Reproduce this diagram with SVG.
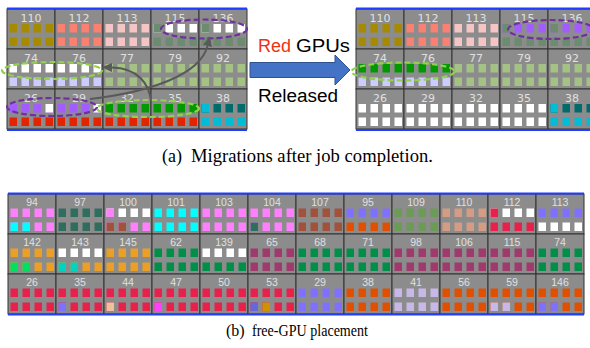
<svg xmlns="http://www.w3.org/2000/svg" xmlns:xlink="http://www.w3.org/1999/xlink" width="590" height="348" viewBox="0 0 590 348">
<style>
.bgc{fill:#8c8c8c;stroke:#333;stroke-width:1}
.lt{font-family:"DejaVu Sans",sans-serif;font-size:11px;fill:#e0e0e0;text-anchor:middle}
.lb{font-family:"Liberation Sans",sans-serif;font-size:10.5px;fill:#e0e0e0;text-anchor:middle}
.blue{stroke:#1f3cff;stroke-width:2}
.ep{fill:none;stroke:#7030a0;stroke-width:2.2;stroke-dasharray:6 3}
.eg{fill:none;stroke:#92d050;stroke-width:2.2;stroke-dasharray:6 3}
.arr{fill:none;stroke:#595959;stroke-width:2}
.sans{font-family:"Liberation Sans",Arial,sans-serif;font-size:18px;fill:#000}
.serif{font-family:"Liberation Serif","Times New Roman",serif;font-size:18px;fill:#000}
.ol{fill:#a68a00}.sa{fill:#fa8072}.pi{fill:#f5c5c5}.gg{fill:#6b8c6e}.wh{fill:#fff}.la{fill:#ccccff}.lg{fill:#a3c283}.pu{fill:#a35cff}.rd{fill:#e22400}.gn{fill:#009a00}.cy{fill:#00bcd4}.tl{fill:#006b6b}
.pk{fill:#ff80ff}.c2{fill:#00ffff}.dt{fill:#2f6e5e}.br{fill:#a0523d}.or{fill:#eb9f25}.bgr{fill:#00e060}.tq{fill:#00d4c0}.gr{fill:#008f48}.pl{fill:#a03a6c}.cr{fill:#e8204c}.pw{fill:#8070ff}.pe{fill:#f0c098}.mg{fill:#ff40ff}.bl{fill:#6666dd}.go{fill:#d09000}.ro{fill:#e05000}.og{fill:#6b9b55}.tn{fill:#d49c82}.lv{fill:#c8b8e8}
</style>
<defs>
<rect id="q" width="7.5" height="8.5"/>
<g id="r"><use href="#q" x="2.5"/><use href="#q" x="14.5"/><use href="#q" x="26.5"/><use href="#q" x="38.5"/></g>
<marker id="ah" markerUnits="userSpaceOnUse" markerWidth="11" markerHeight="10" refX="0" refY="4.5" orient="auto"><path d="M0,0 L10,4.5 L0,9 z" fill="#595959"/></marker>
</defs>
<rect width="590" height="348" fill="#fff"/>

<!-- Top-left grid -->
<g id="tl-110" transform="translate(7,9)"><rect class="bgc" width="48" height="40"/><text class="lt" x="24" y="12.5">110</text><use href="#r" y="15" class="ol"/><use href="#r" y="28.5" class="ol"/></g>
<g id="tl-112" transform="translate(55,9)"><rect class="bgc" width="48" height="40"/><text class="lt" x="24" y="12.5">112</text><use href="#r" y="15" class="sa"/><use href="#r" y="28.5" class="sa"/></g>
<g id="tl-113" transform="translate(103,9)"><rect class="bgc" width="48" height="40"/><text class="lt" x="24" y="12.5">113</text><use href="#r" y="15" class="pi"/><use href="#r" y="28.5" class="pi"/></g>
<g id="tl-115" transform="translate(151,9)"><rect class="bgc" width="48" height="40"/><text class="lt" x="24" y="12.5">115</text><use href="#r" y="15" class="wh"/><use href="#q" x="2.5" y="15" class="gg"/><use href="#r" y="28.5" class="gg"/></g>
<g id="tl-136" transform="translate(199,9)"><rect class="bgc" width="48" height="40"/><text class="lt" x="24" y="12.5">136</text><use href="#r" y="15" class="wh"/><use href="#q" x="2.5" y="15" class="gg"/><use href="#r" y="28.5" class="gg"/></g>
<g id="tl-74" transform="translate(7,49)"><rect class="bgc" width="48" height="40"/><text class="lt" x="24" y="12.5">74</text><use href="#r" y="15" class="wh"/><use href="#r" y="28.5" class="la"/></g>
<g id="tl-76" transform="translate(55,49)"><rect class="bgc" width="48" height="40"/><text class="lt" x="24" y="12.5">76</text><use href="#r" y="15" class="wh"/><use href="#r" y="28.5" class="la"/></g>
<g id="tl-77" transform="translate(103,49)"><rect class="bgc" width="48" height="40"/><text class="lt" x="24" y="12.5">77</text><use href="#r" y="15" class="lg"/><use href="#r" y="28.5" class="lg"/></g>
<g id="tl-79" transform="translate(151,49)"><rect class="bgc" width="48" height="40"/><text class="lt" x="24" y="12.5">79</text><use href="#r" y="15" class="lg"/><use href="#r" y="28.5" class="lg"/></g>
<g id="tl-92" transform="translate(199,49)"><rect class="bgc" width="48" height="40"/><text class="lt" x="24" y="12.5">92</text><use href="#r" y="15" class="lg"/><use href="#r" y="28.5" class="lg"/></g>
<g id="tl-26" transform="translate(7,89)"><rect class="bgc" width="48" height="40"/><text class="lt" x="24" y="12.5">26</text><use href="#r" y="15" class="pu"/><use href="#q" x="38.5" y="15" class="wh"/><use href="#r" y="28.5" class="rd"/></g>
<g id="tl-29" transform="translate(55,89)"><rect class="bgc" width="48" height="40"/><text class="lt" x="24" y="12.5">29</text><use href="#r" y="15" class="pu"/><use href="#q" x="38.5" y="15" class="wh"/><use href="#r" y="28.5" class="rd"/></g>
<g id="tl-32" transform="translate(103,89)"><rect class="bgc" width="48" height="40"/><text class="lt" x="24" y="12.5">32</text><use href="#r" y="15" class="gn"/><use href="#r" y="28.5" class="rd"/></g>
<g id="tl-35" transform="translate(151,89)"><rect class="bgc" width="48" height="40"/><text class="lt" x="24" y="12.5">35</text><use href="#r" y="15" class="gn"/><use href="#r" y="28.5" class="rd"/></g>
<g id="tl-38" transform="translate(199,89)"><rect class="bgc" width="48" height="40"/><text class="lt" x="24" y="12.5">38</text><use href="#r" y="15" class="tl"/><use href="#q" x="2.5" y="15" class="cy"/><use href="#r" y="28.5" class="cy"/></g>

<!-- Top-right grid -->
<g id="tr-110" transform="translate(356,9)"><rect class="bgc" width="48" height="40"/><text class="lt" x="24" y="12.5">110</text><use href="#r" y="15" class="ol"/><use href="#r" y="28.5" class="ol"/></g>
<g id="tr-112" transform="translate(404,9)"><rect class="bgc" width="48" height="40"/><text class="lt" x="24" y="12.5">112</text><use href="#r" y="15" class="sa"/><use href="#r" y="28.5" class="sa"/></g>
<g id="tr-113" transform="translate(452,9)"><rect class="bgc" width="48" height="40"/><text class="lt" x="24" y="12.5">113</text><use href="#r" y="15" class="pi"/><use href="#r" y="28.5" class="pi"/></g>
<g id="tr-115" transform="translate(500,9)"><rect class="bgc" width="48" height="40"/><text class="lt" x="24" y="12.5">115</text><use href="#r" y="15" class="pu"/><use href="#q" x="2.5" y="15" class="gg"/><use href="#r" y="28.5" class="gg"/></g>
<g id="tr-136" transform="translate(548,9)"><rect class="bgc" width="48" height="40"/><text class="lt" x="24" y="12.5">136</text><use href="#r" y="15" class="pu"/><use href="#q" x="2.5" y="15" class="gg"/><use href="#r" y="28.5" class="gg"/></g>
<g id="tr-74" transform="translate(356,49)"><rect class="bgc" width="48" height="40"/><text class="lt" x="24" y="12.5">74</text><use href="#r" y="15" class="gn"/><use href="#r" y="28.5" class="la"/></g>
<g id="tr-76" transform="translate(404,49)"><rect class="bgc" width="48" height="40"/><text class="lt" x="24" y="12.5">76</text><use href="#r" y="15" class="gn"/><use href="#r" y="28.5" class="la"/></g>
<g id="tr-77" transform="translate(452,49)"><rect class="bgc" width="48" height="40"/><text class="lt" x="24" y="12.5">77</text><use href="#r" y="15" class="lg"/><use href="#r" y="28.5" class="lg"/></g>
<g id="tr-79" transform="translate(500,49)"><rect class="bgc" width="48" height="40"/><text class="lt" x="24" y="12.5">79</text><use href="#r" y="15" class="lg"/><use href="#r" y="28.5" class="lg"/></g>
<g id="tr-92" transform="translate(548,49)"><rect class="bgc" width="48" height="40"/><text class="lt" x="24" y="12.5">92</text><use href="#r" y="15" class="lg"/><use href="#r" y="28.5" class="lg"/></g>
<g id="tr-26" transform="translate(356,89)"><rect class="bgc" width="48" height="40"/><text class="lt" x="24" y="12.5">26</text><use href="#r" y="15" class="wh"/><use href="#r" y="28.5" class="wh"/></g>
<g id="tr-29" transform="translate(404,89)"><rect class="bgc" width="48" height="40"/><text class="lt" x="24" y="12.5">29</text><use href="#r" y="15" class="wh"/><use href="#r" y="28.5" class="wh"/></g>
<g id="tr-32" transform="translate(452,89)"><rect class="bgc" width="48" height="40"/><text class="lt" x="24" y="12.5">32</text><use href="#r" y="15" class="wh"/><use href="#r" y="28.5" class="wh"/></g>
<g id="tr-35" transform="translate(500,89)"><rect class="bgc" width="48" height="40"/><text class="lt" x="24" y="12.5">35</text><use href="#r" y="15" class="wh"/><use href="#r" y="28.5" class="wh"/></g>
<g id="tr-38" transform="translate(548,89)"><rect class="bgc" width="48" height="40"/><text class="lt" x="24" y="12.5">38</text><use href="#r" y="15" class="tl"/><use href="#q" x="2.5" y="15" class="cy"/><use href="#r" y="28.5" class="cy"/></g>

<!-- Bottom grid row 0 -->
<g id="b-94" transform="translate(8,194)"><rect class="bgc" width="48" height="40"/><text class="lb" x="24" y="12">94</text><use href="#r" y="14.5" class="pk"/><use href="#r" y="28.5" class="pk"/><use href="#q" x="2.5" y="28.5" class="c2"/><use href="#q" x="14.5" y="28.5" class="c2"/></g>
<g id="b-97" transform="translate(56,194)"><rect class="bgc" width="48" height="40"/><text class="lb" x="24" y="12">97</text><use href="#r" y="14.5" class="dt"/><use href="#r" y="28.5" class="dt"/></g>
<g id="b-100" transform="translate(104,194)"><rect class="bgc" width="48" height="40"/><text class="lb" x="24" y="12">100</text><use href="#r" y="14.5" class="wh"/><use href="#q" x="2.5" y="14.5" class="pk"/><use href="#r" y="28.5" class="pk"/><use href="#q" x="2.5" y="28.5" class="br"/><use href="#q" x="14.5" y="28.5" class="br"/></g>
<g id="b-101" transform="translate(152,194)"><rect class="bgc" width="48" height="40"/><text class="lb" x="24" y="12">101</text><use href="#r" y="14.5" class="c2"/><use href="#r" y="28.5" class="c2"/></g>
<g id="b-103" transform="translate(200,194)"><rect class="bgc" width="48" height="40"/><text class="lb" x="24" y="12">103</text><use href="#r" y="14.5" class="pk"/><use href="#r" y="28.5" class="pk"/></g>
<g id="b-104" transform="translate(248,194)"><rect class="bgc" width="48" height="40"/><text class="lb" x="24" y="12">104</text><use href="#r" y="14.5" class="pk"/><use href="#r" y="28.5" class="pk"/><use href="#q" x="2.5" y="28.5" class="dt"/></g>
<g id="b-107" transform="translate(296,194)"><rect class="bgc" width="48" height="40"/><text class="lb" x="24" y="12">107</text><use href="#r" y="14.5" class="br"/><use href="#r" y="28.5" class="br"/></g>
<g id="b-95" transform="translate(344,194)"><rect class="bgc" width="48" height="40"/><text class="lb" x="24" y="12">95</text><use href="#r" y="14.5" class="pw"/><use href="#r" y="28.5" class="ro"/></g>
<g id="b-109" transform="translate(392,194)"><rect class="bgc" width="48" height="40"/><text class="lb" x="24" y="12">109</text><use href="#r" y="14.5" class="og"/><use href="#r" y="28.5" class="og"/></g>
<g id="b-110" transform="translate(440,194)"><rect class="bgc" width="48" height="40"/><text class="lb" x="24" y="12">110</text><use href="#r" y="14.5" class="tn"/><use href="#r" y="28.5" class="tn"/></g>
<g id="b-112" transform="translate(488,194)"><rect class="bgc" width="48" height="40"/><text class="lb" x="24" y="12">112</text><use href="#r" y="14.5" class="wh"/><use href="#q" x="2.5" y="14.5" class="cr"/><use href="#r" y="28.5" class="cr"/></g>
<g id="b-113" transform="translate(536,194)"><rect class="bgc" width="48" height="40"/><text class="lb" x="24" y="12">113</text><use href="#r" y="14.5" class="pw"/><use href="#r" y="28.5" class="wh"/></g>

<!-- Bottom grid row 1 -->
<g id="b-142" transform="translate(8,234)"><rect class="bgc" width="48" height="40"/><text class="lb" x="24" y="12">142</text><use href="#r" y="14.5" class="or"/><use href="#r" y="28.5" class="or"/><use href="#q" x="2.5" y="28.5" class="bgr"/><use href="#q" x="14.5" y="28.5" class="bgr"/></g>
<g id="b-143" transform="translate(56,234)"><rect class="bgc" width="48" height="40"/><text class="lb" x="24" y="12">143</text><use href="#r" y="14.5" class="wh"/><use href="#r" y="28.5" class="or"/><use href="#q" x="2.5" y="28.5" class="tq"/><use href="#q" x="14.5" y="28.5" class="tq"/></g>
<g id="b-145" transform="translate(104,234)"><rect class="bgc" width="48" height="40"/><text class="lb" x="24" y="12">145</text><use href="#r" y="14.5" class="or"/><use href="#r" y="28.5" class="or"/></g>
<g id="b-62" transform="translate(152,234)"><rect class="bgc" width="48" height="40"/><text class="lb" x="24" y="12">62</text><use href="#r" y="14.5" class="gr"/><use href="#r" y="28.5" class="gr"/></g>
<g id="b-139" transform="translate(200,234)"><rect class="bgc" width="48" height="40"/><text class="lb" x="24" y="12">139</text><use href="#r" y="14.5" class="wh"/><use href="#r" y="28.5" class="gr"/></g>
<g id="b-65" transform="translate(248,234)"><rect class="bgc" width="48" height="40"/><text class="lb" x="24" y="12">65</text><use href="#r" y="14.5" class="pl"/><use href="#r" y="28.5" class="pl"/></g>
<g id="b-68" transform="translate(296,234)"><rect class="bgc" width="48" height="40"/><text class="lb" x="24" y="12">68</text><use href="#r" y="14.5" class="gr"/><use href="#r" y="28.5" class="gr"/></g>
<g id="b-71" transform="translate(344,234)"><rect class="bgc" width="48" height="40"/><text class="lb" x="24" y="12">71</text><use href="#r" y="14.5" class="gr"/><use href="#r" y="28.5" class="gr"/></g>
<g id="b-98" transform="translate(392,234)"><rect class="bgc" width="48" height="40"/><text class="lb" x="24" y="12">98</text><use href="#r" y="14.5" class="pl"/><use href="#r" y="28.5" class="pl"/></g>
<g id="b-106" transform="translate(440,234)"><rect class="bgc" width="48" height="40"/><text class="lb" x="24" y="12">106</text><use href="#r" y="14.5" class="pl"/><use href="#r" y="28.5" class="pl"/></g>
<g id="b-115" transform="translate(488,234)"><rect class="bgc" width="48" height="40"/><text class="lb" x="24" y="12">115</text><use href="#r" y="14.5" class="pl"/><use href="#r" y="28.5" class="pl"/></g>
<g id="b-74" transform="translate(536,234)"><rect class="bgc" width="48" height="40"/><text class="lb" x="24" y="12">74</text><use href="#r" y="14.5" class="gr"/><use href="#r" y="28.5" class="gr"/></g>

<!-- Bottom grid row 2 -->
<g id="b-26" transform="translate(8,274)"><rect class="bgc" width="48" height="40"/><text class="lb" x="24" y="12">26</text><use href="#r" y="14.5" class="cr"/><use href="#r" y="28.5" class="cr"/></g>
<g id="b-35" transform="translate(56,274)"><rect class="bgc" width="48" height="40"/><text class="lb" x="24" y="12">35</text><use href="#r" y="14.5" class="cr"/><use href="#r" y="28.5" class="cr"/><use href="#q" x="2.5" y="28.5" class="pw"/></g>
<g id="b-44" transform="translate(104,274)"><rect class="bgc" width="48" height="40"/><text class="lb" x="24" y="12">44</text><use href="#r" y="14.5" class="cr"/><use href="#r" y="28.5" class="cr"/><use href="#q" x="2.5" y="28.5" class="pe"/></g>
<g id="b-47" transform="translate(152,274)"><rect class="bgc" width="48" height="40"/><text class="lb" x="24" y="12">47</text><use href="#r" y="14.5" class="cr"/><use href="#r" y="28.5" class="cr"/><use href="#q" x="2.5" y="28.5" class="mg"/></g>
<g id="b-50" transform="translate(200,274)"><rect class="bgc" width="48" height="40"/><text class="lb" x="24" y="12">50</text><use href="#r" y="14.5" class="cr"/><use href="#r" y="28.5" class="cr"/></g>
<g id="b-53" transform="translate(248,274)"><rect class="bgc" width="48" height="40"/><text class="lb" x="24" y="12">53</text><use href="#r" y="14.5" class="cr"/><use href="#r" y="28.5" class="cr"/><use href="#q" x="2.5" y="28.5" class="bl"/><use href="#q" x="14.5" y="28.5" class="go"/></g>
<g id="b-29" transform="translate(296,274)"><rect class="bgc" width="48" height="40"/><text class="lb" x="24" y="12">29</text><use href="#r" y="14.5" class="pw"/><use href="#r" y="28.5" class="pw"/></g>
<g id="b-38" transform="translate(344,274)"><rect class="bgc" width="48" height="40"/><text class="lb" x="24" y="12">38</text><use href="#r" y="14.5" class="ro"/><use href="#r" y="28.5" class="ro"/></g>
<g id="b-41" transform="translate(392,274)"><rect class="bgc" width="48" height="40"/><text class="lb" x="24" y="12">41</text><use href="#r" y="14.5" class="lv"/><use href="#r" y="28.5" class="lv"/></g>
<g id="b-56" transform="translate(440,274)"><rect class="bgc" width="48" height="40"/><text class="lb" x="24" y="12">56</text><use href="#r" y="14.5" class="ro"/><use href="#r" y="28.5" class="ro"/></g>
<g id="b-59" transform="translate(488,274)"><rect class="bgc" width="48" height="40"/><text class="lb" x="24" y="12">59</text><use href="#r" y="14.5" class="ro"/><use href="#r" y="28.5" class="ro"/><use href="#q" x="2.5" y="28.5" class="lv"/><use href="#q" x="14.5" y="28.5" class="lv"/></g>
<g id="b-146" transform="translate(536,274)"><rect class="bgc" width="48" height="40"/><text class="lb" x="24" y="12">146</text><use href="#r" y="14.5" class="ro"/><use href="#r" y="28.5" class="ro"/><use href="#q" x="2.5" y="28.5" class="pw"/><use href="#q" x="14.5" y="28.5" class="pw"/></g>

<!-- blue borders -->
<g id="borders">
<line class="blue" x1="7" y1="8.5" x2="247" y2="8.5"/>
<line class="blue" x1="7" y1="130" x2="247" y2="130"/>
<line class="blue" x1="356" y1="8.5" x2="590" y2="8.5"/>
<line class="blue" x1="356" y1="130" x2="590" y2="130"/>
<line class="blue" x1="8" y1="193.5" x2="584" y2="193.5"/>
<line class="blue" x1="8" y1="314.5" x2="584" y2="314.5"/>
</g>

<!-- annotation ellipses -->
<g id="ellipses">
<ellipse class="ep" cx="204" cy="29" rx="43" ry="9.5"/>
<ellipse class="eg" cx="52" cy="70.5" rx="50" ry="8.5"/>
<ellipse class="ep" cx="52" cy="107" rx="45" ry="9"/>
<ellipse class="eg" cx="148" cy="108.5" rx="51" ry="8.5"/>
<ellipse class="ep" cx="551" cy="29.5" rx="43" ry="9.5"/>
<ellipse class="eg" cx="403" cy="71.5" rx="51.5" ry="9"/>
</g>

<!-- connectors -->
<g id="connectors">
<path class="arr" d="M151,101 C149,84 138,68 112,67.5" marker-end="url(#ah)"/>
<path class="arr" d="M90,99 C150,92 200,75 207.5,46" marker-end="url(#ah)"/>
<polygon id="big-arrow" points="250,62.5 335,62.5 335,55 350,70 335,85 335,77.5 250,77.5" fill="#4472c4" stroke="#2f528f" stroke-width="1"/>
</g>

<text class="sans" x="258" y="52"><tspan fill="#ee3311">Red</tspan></text>
<text class="sans" x="296" y="52" textLength="54" lengthAdjust="spacingAndGlyphs">GPUs</text>
<text class="sans" x="258" y="101.5" textLength="80" lengthAdjust="spacingAndGlyphs">Released</text>

<text class="serif" x="162" y="161.5">(a)</text>
<text class="serif" x="191" y="161.5" textLength="242" lengthAdjust="spacingAndGlyphs">Migrations after job completion.</text>
<text class="serif" x="226" y="336" style="font-size:16px">(b)</text>
<text class="serif" x="252" y="336" style="font-size:16px" textLength="116" lengthAdjust="spacingAndGlyphs">free-GPU placement</text>
</svg>
